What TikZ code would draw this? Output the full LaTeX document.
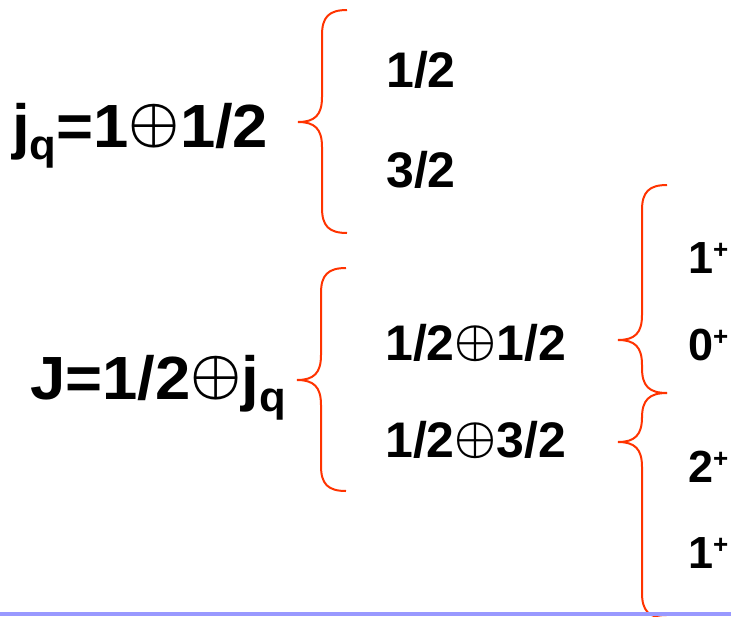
\documentclass[tikz,border=0pt]{standalone}
\usepackage{fontspec}
\usepackage{graphicx}
\setmainfont{Liberation Sans}
\usetikzlibrary{positioning}

\definecolor{bracered}{RGB}{255,51,0}
\definecolor{rulelilac}{RGB}{153,153,255}

\newcommand{\osum}{\raisebox{.1em}{\resizebox*{!}{.72em}{\boldmath$\oplus$}}}
\newcommand{\subq}{\raisebox{-.2em}{\fontsize{42}{42}\selectfont q}}
\newcommand{\parplus}{\raisebox{15pt}{\fontsize{26}{26}\selectfont +}}
% tip, rise to top end, drop to bottom end
\newcommand{\redbrace}[3]{%
  \draw[brc, shift={(#1)}]
    (49,-#2) .. controls (31,-#2) and (24,-#2+7) .. (24,-#2+25)
    -- (24,-25) .. controls (24,-7) and (17,0) .. (0,0)
    .. controls (17,0) and (24,7) .. (24,25)
    -- (24,#3-25) .. controls (24,#3-7) and (31,#3) .. (49,#3);}

\begin{document}
\begin{tikzpicture}[
      x=1pt, y=-1pt,
      lbl/.style={
        anchor=base west,
        inner sep=0pt,
        font=\bfseries\fontsize{50}{50}\selectfont
      },
      big/.style={
        lbl,
        font=\bfseries\addfontfeature{FakeStretch=1.04}\fontsize{61}{61}\selectfont
      },
      par/.style={
        lbl,
        font=\bfseries\fontsize{45}{45}\selectfont
      },
      brc/.style={
        draw=bracered,
        line width=2pt
      }
    ]
      \useasboundingbox (0,0) rectangle (731,616);

      \node[big] (jq) at (12,147) {j\subq=1\osum1/2};
      \node[big] (J) at (30,399) {J=1/2\osum j\subq};

      \node[lbl] (s1) at (386,87) {1/2};
      \node[lbl] (s3) at (386,187) {3/2};

      \node[lbl] (c1) at (385,360) {1/2\osum1/2};
      \node[lbl] (c3) at (385,457) {1/2\osum3/2};

      \node[par] (pa) at (688,273) {1\parplus};
      \node[par] (pb) at (688,360) {0\parplus};
      \node[par] (pc) at (688,482) {2\parplus};
      \node[par] (pd) at (688,568) {1\parplus};

      \coordinate (tjq) at (298,122);
      \coordinate (tJ) at (297,380);
      \coordinate (tc1) at (618,340);
      \coordinate (tc3) at (618,442);

      \redbrace{tjq}{112}{111}
      \redbrace{tJ}{112}{111}
      \redbrace{tc1}{155}{53}
      \redbrace{tc3}{49}{176}

      \fill[rulelilac] (0,612) rectangle (731,616);
    \end{tikzpicture}
\end{document}
